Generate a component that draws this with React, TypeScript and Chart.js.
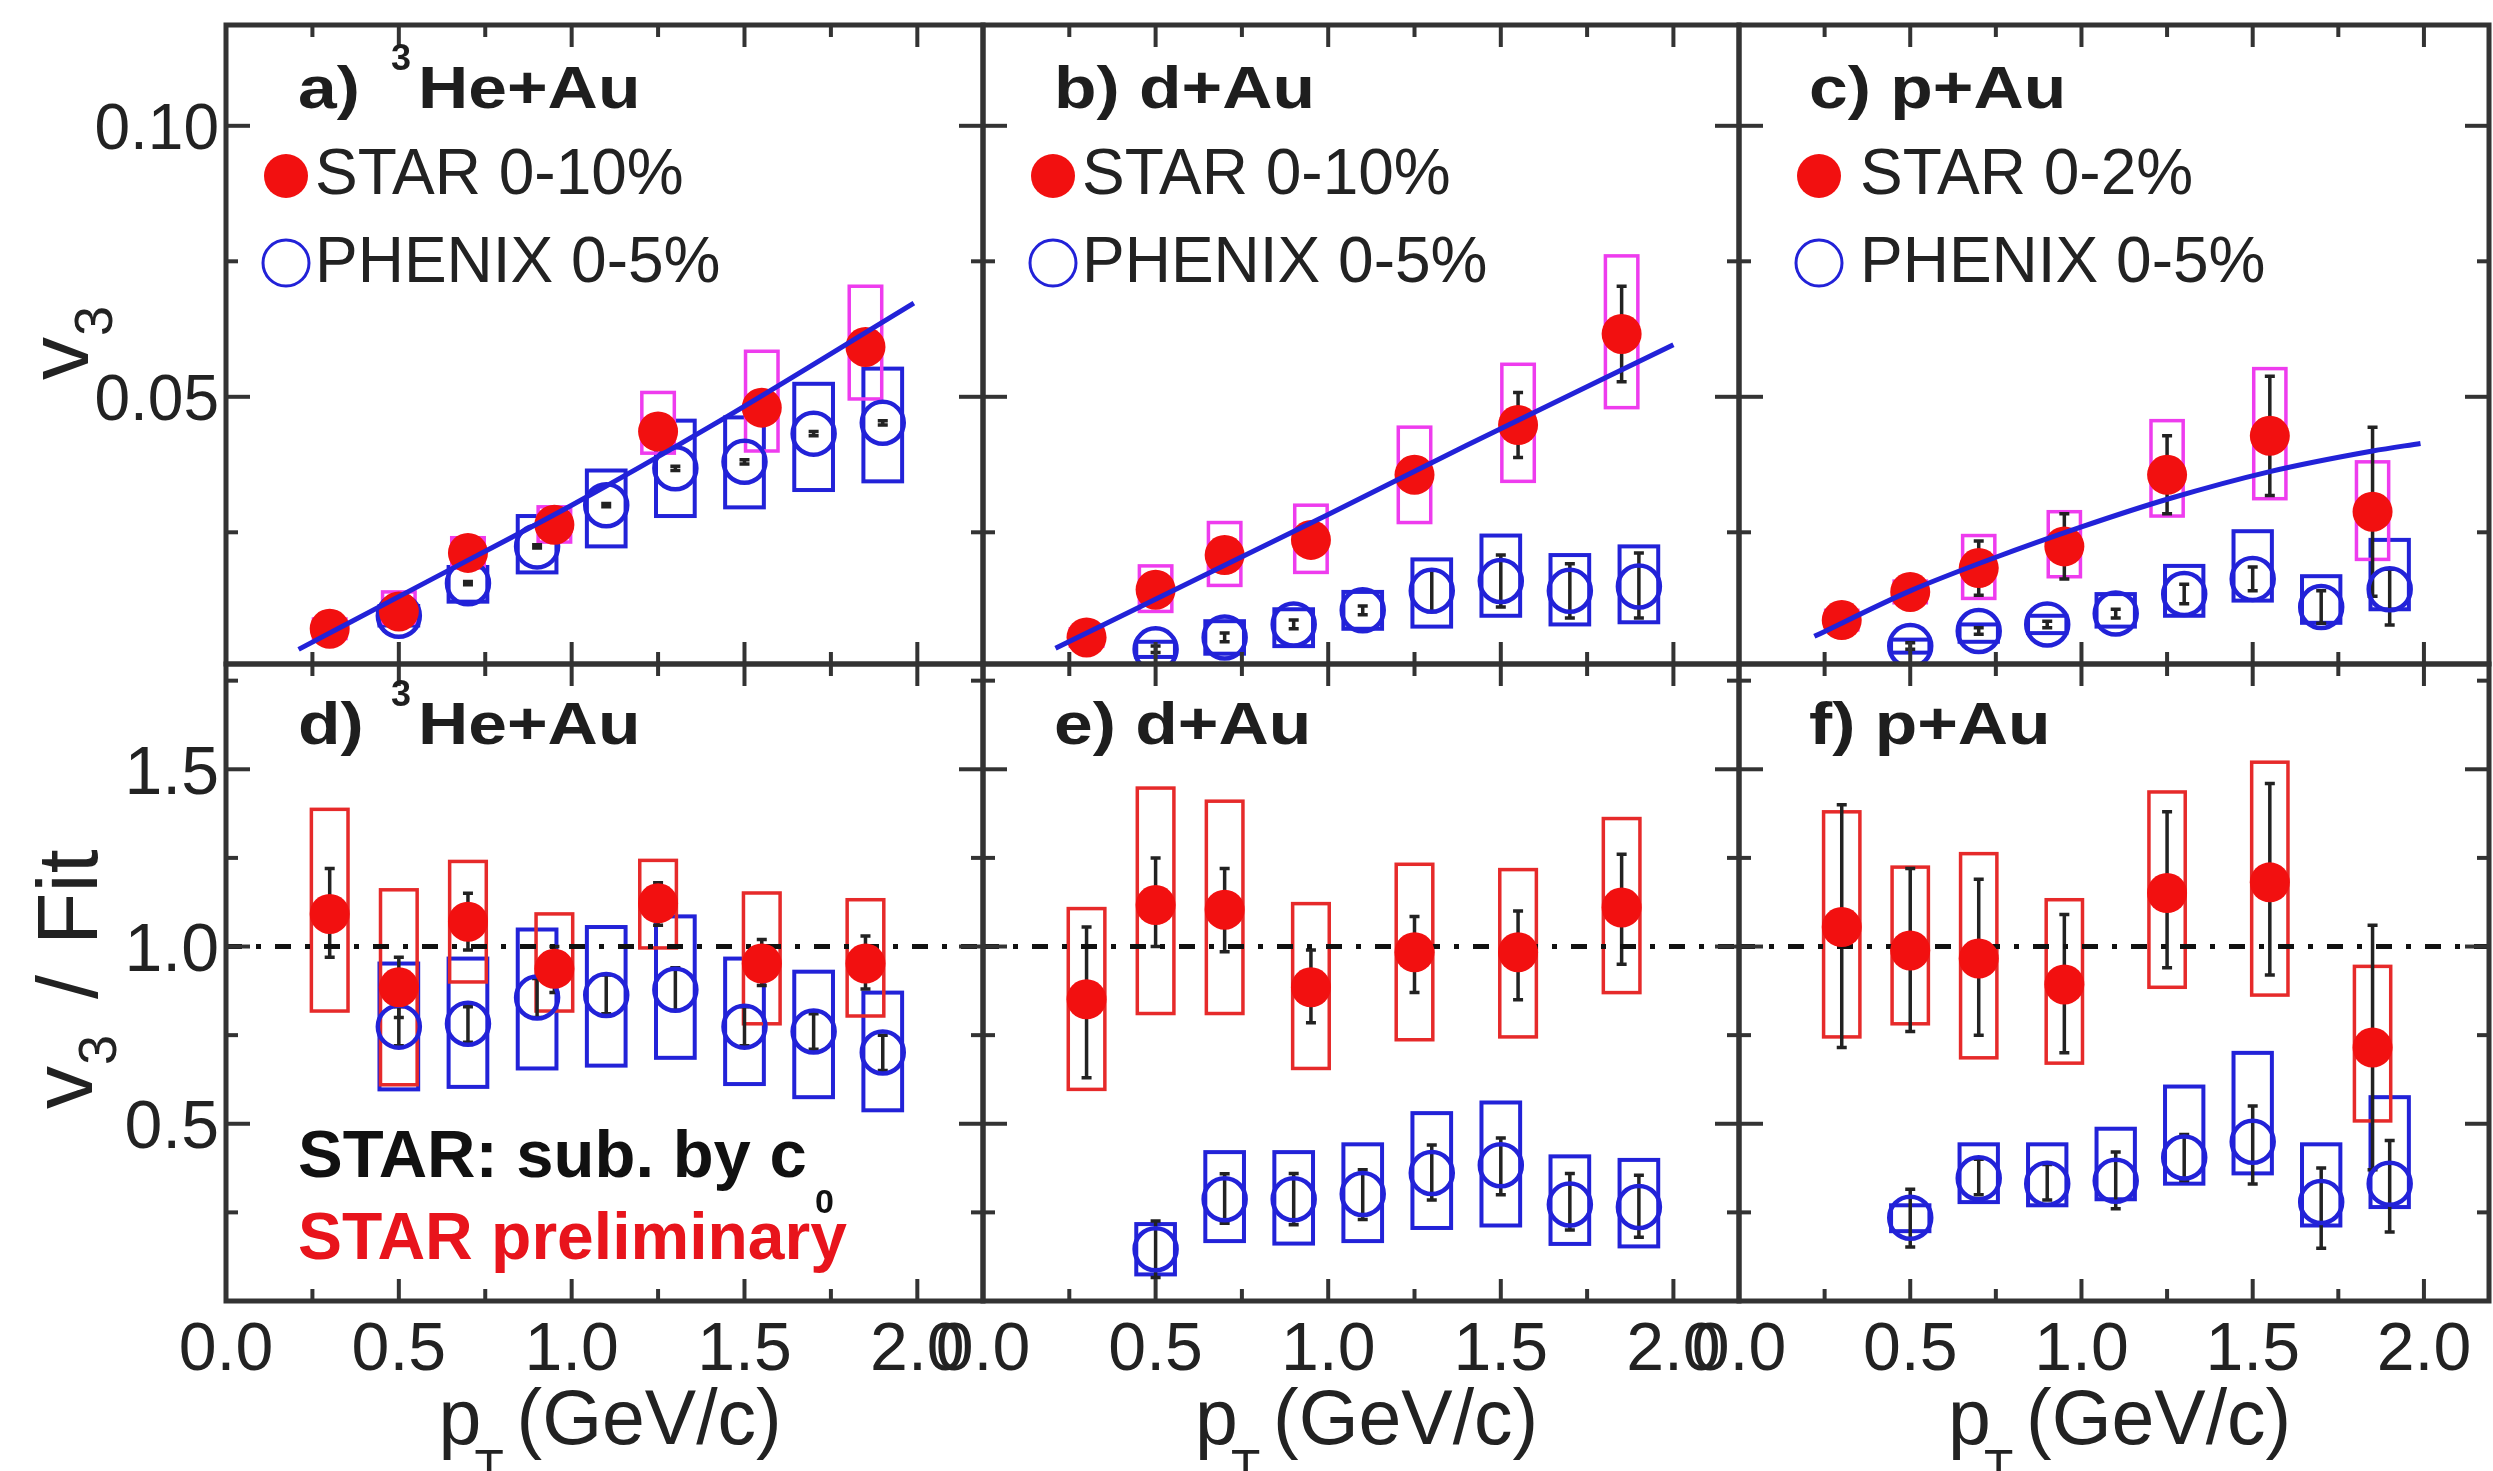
import React, { useEffect, useRef } from 'react';
import { Chart, registerables } from 'chart.js';

Chart.register(...registerables);

const W = 2493;
const H = 1471;
const FONT = '"Liberation Sans", Arial, Helvetica, sans-serif';
const RED = '#f21010';
const MAGENTA = '#ee3cee';
const RED_BOX = '#e62a2a';
const BLUE = '#2222d8';
const INK = '#1e1e1e';
const FRAME = '#333333';
const TEXT_RED = '#e8141c';

// ---------- axes ----------
const X_MIN = 0;
const X_MAX = 2.19;
const X_MAJOR = [0.5, 1.0, 1.5, 2.0];
const X_MINOR = [0.25, 0.75, 1.25, 1.75];
const X_LABEL_VALUES = [0, 0.5, 1.0, 1.5, 2.0];
const X_LABELS = ['0.0', '0.5', '1.0', '1.5', '2.0'];

const V3_RANGE = [0.0007, 0.1186];
const V3_MAJOR = [0.05, 0.1];
const V3_MINOR = [0.025, 0.075];
const V3_LABELS = ['0.05', '0.10'];

const RATIO_RANGE = [0, 1.797];
const RATIO_MAJOR = [0.5, 1.0, 1.5];
const RATIO_MINOR = [0.25, 0.75, 1.25, 1.75];
const RATIO_LABELS = ['0.5', '1.0', '1.5'];
const RATIO_REF_PT = [0, 2.19];
const RATIO_REF = [1, 1];

// ---------- pT bins ----------
const PT_STAR = [0.3, 0.5, 0.7, 0.95, 1.25, 1.55, 1.85];
const PT_PHENIX = [0.5, 0.7, 0.9, 1.1, 1.3, 1.5, 1.7, 1.9];

// ---------- a) 3He+Au v3 ----------
const A_STAR = [0.0072, 0.0104, 0.0212, 0.0264, 0.0436, 0.048, 0.0592];
const A_STAR_SYS_LO = [0.0054, 0.0082, 0.0184, 0.0232, 0.0396, 0.04, 0.0496];
const A_STAR_SYS_HI = [0.009, 0.014, 0.024, 0.0297, 0.0508, 0.0584, 0.0704];
const A_STAR_STAT_LO = [0.0064, 0.0096, 0.0202, 0.0252, 0.042, 0.0462, 0.0566];
const A_STAR_STAT_HI = [0.008, 0.0112, 0.0222, 0.0276, 0.0452, 0.0498, 0.0618];
const A_PHX = [0.0096, 0.0156, 0.0224, 0.03, 0.0368, 0.038, 0.0432, 0.0452];
const A_PHX_SYS_LO = [0.0078, 0.0122, 0.0176, 0.0224, 0.028, 0.0296, 0.0328, 0.0344];
const A_PHX_SYS_HI = [0.0114, 0.0186, 0.028, 0.0364, 0.0456, 0.0462, 0.0524, 0.0552];
const A_PHX_STAT_LO = [0.0093, 0.0153, 0.0221, 0.0297, 0.0364, 0.0376, 0.0428, 0.0448];
const A_PHX_STAT_HI = [0.0099, 0.0159, 0.0227, 0.0303, 0.0372, 0.0384, 0.0436, 0.0456];
const A_FIT_PT = [0.21, 0.6, 1.0, 1.4, 1.99];
const A_FIT = [0.0034, 0.0165, 0.03, 0.0445, 0.0673];

// ---------- b) d+Au v3 ----------
const B_STAR = [0.0056, 0.0144, 0.0208, 0.0236, 0.0356, 0.0448, 0.0616];
const B_STAR_SYS_LO = [0.004, 0.0104, 0.0152, 0.0176, 0.0268, 0.0344, 0.048];
const B_STAR_SYS_HI = [0.0072, 0.0188, 0.0268, 0.03, 0.0444, 0.056, 0.076];
const B_STAR_STAT_LO = [0.0046, 0.0132, 0.0194, 0.022, 0.033, 0.0388, 0.0528];
const B_STAR_STAT_HI = [0.0066, 0.0156, 0.0222, 0.0252, 0.0382, 0.0508, 0.0704];
const B_PHX = [0.0034, 0.0056, 0.008, 0.0106, 0.0142, 0.016, 0.0142, 0.015];
const B_PHX_SYS_LO = [0.002, 0.0026, 0.004, 0.0072, 0.0076, 0.0096, 0.008, 0.0084];
const B_PHX_SYS_HI = [0.0048, 0.0086, 0.0108, 0.014, 0.02, 0.0244, 0.0208, 0.0224];
const B_PHX_STAT_LO = [0.0028, 0.0048, 0.0072, 0.0098, 0.0104, 0.0112, 0.0092, 0.0092];
const B_PHX_STAT_HI = [0.004, 0.0064, 0.0088, 0.0114, 0.018, 0.0208, 0.0192, 0.0212];
const B_FIT_PT = [0.21, 0.6, 1.0, 1.4, 2.0];
const B_FIT = [0.0036, 0.0158, 0.0283, 0.041, 0.0596];

// ---------- c) p+Au v3 ----------
const C_STAR = [0.0088, 0.014, 0.0184, 0.0224, 0.0356, 0.0428, 0.0288];
const C_STAR_SYS_LO = [0.007, 0.012, 0.0128, 0.0168, 0.028, 0.0312, 0.02];
const C_STAR_SYS_HI = [0.0106, 0.016, 0.0244, 0.0288, 0.0456, 0.0552, 0.038];
const C_STAR_STAT_LO = [0.0078, 0.0128, 0.0134, 0.0164, 0.0284, 0.0318, 0.0132];
const C_STAR_STAT_HI = [0.0098, 0.0152, 0.0234, 0.0284, 0.0428, 0.0538, 0.0444];
const C_PHX = [0.004, 0.0068, 0.008, 0.01, 0.0136, 0.0164, 0.0112, 0.0145];
const C_PHX_SYS_LO = [0.0028, 0.0048, 0.0064, 0.0076, 0.0096, 0.0124, 0.0083, 0.0108];
const C_PHX_SYS_HI = [0.0052, 0.008, 0.0096, 0.0136, 0.0188, 0.0252, 0.0169, 0.0236];
const C_PHX_STAT_LO = [0.0034, 0.0062, 0.0074, 0.0092, 0.0118, 0.0142, 0.0082, 0.0079];
const C_PHX_STAT_HI = [0.0046, 0.0074, 0.0086, 0.0108, 0.0154, 0.0186, 0.0142, 0.0182];
const C_FIT_PT = [0.22, 0.5, 0.75, 1.0, 1.25, 1.55, 1.85, 1.99];
const C_FIT = [0.0058, 0.0142, 0.0204, 0.026, 0.0311, 0.0362, 0.04, 0.0414];

// ---------- d) 3He+Au v3/Fit ----------
const D_STAR = [1.092, 0.885, 1.07, 0.937, 1.122, 0.952, 0.952];
const D_STAR_SYS_LO = [0.818, 0.61, 0.9, 0.818, 0.996, 0.782, 0.804];
const D_STAR_SYS_HI = [1.387, 1.16, 1.24, 1.092, 1.243, 1.151, 1.132];
const D_STAR_STAT_LO = [0.97, 0.8, 0.99, 0.87, 1.06, 0.89, 0.88];
const D_STAR_STAT_HI = [1.22, 0.97, 1.15, 1.0, 1.18, 1.02, 1.03];
const D_PHX = [0.774, 0.782, 0.856, 0.863, 0.878, 0.774, 0.76, 0.701];
const D_PHX_SYS_LO = [0.597, 0.604, 0.656, 0.664, 0.686, 0.612, 0.575, 0.538];
const D_PHX_SYS_HI = [0.952, 0.966, 1.048, 1.055, 1.085, 0.966, 0.929, 0.87];
const D_PHX_STAT_LO = [0.72, 0.73, 0.8, 0.81, 0.82, 0.72, 0.71, 0.65];
const D_PHX_STAT_HI = [0.83, 0.83, 0.91, 0.92, 0.94, 0.83, 0.81, 0.75];

// ---------- e) d+Au v3/Fit ----------
const E_STAR = [0.851, 1.117, 1.104, 0.885, 0.984, 0.984, 1.11];
const E_STAR_SYS_LO = [0.597, 0.811, 0.811, 0.656, 0.737, 0.745, 0.87];
const E_STAR_SYS_HI = [1.107, 1.447, 1.41, 1.121, 1.232, 1.217, 1.361];
const E_STAR_STAT_LO = [0.63, 1.0, 0.985, 0.785, 0.87, 0.85, 0.95];
const E_STAR_STAT_HI = [1.055, 1.25, 1.22, 0.99, 1.085, 1.1, 1.26];
const E_PHX = [0.146, 0.287, 0.287, 0.302, 0.361, 0.383, 0.272, 0.265];
const E_PHX_SYS_LO = [0.075, 0.169, 0.162, 0.169, 0.206, 0.213, 0.161, 0.154];
const E_PHX_SYS_HI = [0.217, 0.42, 0.42, 0.442, 0.53, 0.56, 0.408, 0.398];
const E_PHX_STAT_LO = [0.066, 0.219, 0.215, 0.23, 0.285, 0.3, 0.2, 0.18];
const E_PHX_STAT_HI = [0.226, 0.359, 0.36, 0.37, 0.44, 0.46, 0.36, 0.355];

// ---------- f) p+Au v3/Fit ----------
const F_STAR = [1.055, 0.989, 0.966, 0.893, 1.151, 1.181, 0.715];
const F_STAR_SYS_LO = [0.745, 0.782, 0.686, 0.671, 0.885, 0.863, 0.508];
const F_STAR_SYS_HI = [1.38, 1.224, 1.262, 1.132, 1.436, 1.52, 0.944];
const F_STAR_STAT_LO = [0.715, 0.76, 0.75, 0.7, 0.94, 0.92, 0.37];
const F_STAR_STAT_HI = [1.4, 1.22, 1.19, 1.09, 1.38, 1.46, 1.06];
const F_PHX = [0.235, 0.346, 0.331, 0.339, 0.405, 0.449, 0.279, 0.331];
const F_PHX_SYS_LO = [0.197, 0.279, 0.27, 0.287, 0.331, 0.36, 0.213, 0.265];
const F_PHX_SYS_HI = [0.27, 0.442, 0.442, 0.486, 0.605, 0.7, 0.442, 0.575];
const F_PHX_STAT_LO = [0.152, 0.3, 0.285, 0.26, 0.34, 0.33, 0.149, 0.195];
const F_PHX_STAT_HI = [0.315, 0.4, 0.385, 0.42, 0.47, 0.55, 0.375, 0.453];

// ---------- text ----------
const LEGEND_STAR = ['STAR 0-10%', 'STAR 0-10%', 'STAR 0-2%'];
const LEGEND_PHENIX = 'PHENIX 0-5%';

type PanelDef = {
  id: string;
  left: number;
  right: number;
  top: number;
  bottom: number;
  yRange: number[];
  yMajor: number[];
  yMinor: number[];
  yLabels: string[] | null;
  xLabels: boolean;
  star: number[];
  starSysLo: number[];
  starSysHi: number[];
  starStatLo: number[];
  starStatHi: number[];
  phx: number[];
  phxSysLo: number[];
  phxSysHi: number[];
  phxStatLo: number[];
  phxStatHi: number[];
  starBox: string;
  starBoxHW: number;
  fitPt?: number[];
  fit?: number[];
  ref?: boolean;
};

const COLS = [
  [226, 983],
  [983, 1739],
  [1739, 2489],
];
const ROWS = [
  [25, 664],
  [664, 1301],
];

const PANELS: PanelDef[] = [
  {
    id: 'a', left: COLS[0][0], right: COLS[0][1], top: ROWS[0][0], bottom: ROWS[0][1],
    yRange: V3_RANGE, yMajor: V3_MAJOR, yMinor: V3_MINOR, yLabels: V3_LABELS, xLabels: false,
    star: A_STAR, starSysLo: A_STAR_SYS_LO, starSysHi: A_STAR_SYS_HI, starStatLo: A_STAR_STAT_LO, starStatHi: A_STAR_STAT_HI,
    phx: A_PHX, phxSysLo: A_PHX_SYS_LO, phxSysHi: A_PHX_SYS_HI, phxStatLo: A_PHX_STAT_LO, phxStatHi: A_PHX_STAT_HI,
    starBox: MAGENTA, starBoxHW: 0.047, fitPt: A_FIT_PT, fit: A_FIT,
  },
  {
    id: 'b', left: COLS[1][0], right: COLS[1][1], top: ROWS[0][0], bottom: ROWS[0][1],
    yRange: V3_RANGE, yMajor: V3_MAJOR, yMinor: V3_MINOR, yLabels: null, xLabels: false,
    star: B_STAR, starSysLo: B_STAR_SYS_LO, starSysHi: B_STAR_SYS_HI, starStatLo: B_STAR_STAT_LO, starStatHi: B_STAR_STAT_HI,
    phx: B_PHX, phxSysLo: B_PHX_SYS_LO, phxSysHi: B_PHX_SYS_HI, phxStatLo: B_PHX_STAT_LO, phxStatHi: B_PHX_STAT_HI,
    starBox: MAGENTA, starBoxHW: 0.047, fitPt: B_FIT_PT, fit: B_FIT,
  },
  {
    id: 'c', left: COLS[2][0], right: COLS[2][1], top: ROWS[0][0], bottom: ROWS[0][1],
    yRange: V3_RANGE, yMajor: V3_MAJOR, yMinor: V3_MINOR, yLabels: null, xLabels: false,
    star: C_STAR, starSysLo: C_STAR_SYS_LO, starSysHi: C_STAR_SYS_HI, starStatLo: C_STAR_STAT_LO, starStatHi: C_STAR_STAT_HI,
    phx: C_PHX, phxSysLo: C_PHX_SYS_LO, phxSysHi: C_PHX_SYS_HI, phxStatLo: C_PHX_STAT_LO, phxStatHi: C_PHX_STAT_HI,
    starBox: MAGENTA, starBoxHW: 0.047, fitPt: C_FIT_PT, fit: C_FIT,
  },
  {
    id: 'd', left: COLS[0][0], right: COLS[0][1], top: ROWS[1][0], bottom: ROWS[1][1],
    yRange: RATIO_RANGE, yMajor: RATIO_MAJOR, yMinor: RATIO_MINOR, yLabels: RATIO_LABELS, xLabels: true,
    star: D_STAR, starSysLo: D_STAR_SYS_LO, starSysHi: D_STAR_SYS_HI, starStatLo: D_STAR_STAT_LO, starStatHi: D_STAR_STAT_HI,
    phx: D_PHX, phxSysLo: D_PHX_SYS_LO, phxSysHi: D_PHX_SYS_HI, phxStatLo: D_PHX_STAT_LO, phxStatHi: D_PHX_STAT_HI,
    starBox: RED_BOX, starBoxHW: 0.053, ref: true,
  },
  {
    id: 'e', left: COLS[1][0], right: COLS[1][1], top: ROWS[1][0], bottom: ROWS[1][1],
    yRange: RATIO_RANGE, yMajor: RATIO_MAJOR, yMinor: RATIO_MINOR, yLabels: null, xLabels: true,
    star: E_STAR, starSysLo: E_STAR_SYS_LO, starSysHi: E_STAR_SYS_HI, starStatLo: E_STAR_STAT_LO, starStatHi: E_STAR_STAT_HI,
    phx: E_PHX, phxSysLo: E_PHX_SYS_LO, phxSysHi: E_PHX_SYS_HI, phxStatLo: E_PHX_STAT_LO, phxStatHi: E_PHX_STAT_HI,
    starBox: RED_BOX, starBoxHW: 0.053, ref: true,
  },
  {
    id: 'f', left: COLS[2][0], right: COLS[2][1], top: ROWS[1][0], bottom: ROWS[1][1],
    yRange: RATIO_RANGE, yMajor: RATIO_MAJOR, yMinor: RATIO_MINOR, yLabels: null, xLabels: true,
    star: F_STAR, starSysLo: F_STAR_SYS_LO, starSysHi: F_STAR_SYS_HI, starStatLo: F_STAR_STAT_LO, starStatHi: F_STAR_STAT_HI,
    phx: F_PHX, phxSysLo: F_PHX_SYS_LO, phxSysHi: F_PHX_SYS_HI, phxStatLo: F_PHX_STAT_LO, phxStatHi: F_PHX_STAT_HI,
    starBox: RED_BOX, starBoxHW: 0.053, ref: true,
  },
];

function txt(
  ctx: CanvasRenderingContext2D,
  s: string,
  x: number,
  y: number,
  size: number,
  o: { bold?: boolean; color?: string; align?: CanvasTextAlign; sx?: number } = {}
) {
  ctx.save();
  ctx.font = `${o.bold ? 'bold ' : ''}${size}px ${FONT}`;
  ctx.fillStyle = o.color || INK;
  ctx.textAlign = o.align || 'left';
  ctx.textBaseline = 'alphabetic';
  ctx.translate(x, y);
  ctx.scale(o.sx || 1, 1);
  ctx.fillText(s, 0, 0);
  ctx.restore();
}

const TITLE_SIZE = 60;
const TITLE_SX = 1.16;

function drawTitle(ctx: CanvasRenderingContext2D, d: PanelDef) {
  const L = d.left;
  const base = d.top === ROWS[0][0] ? 108 : 744;
  const letter = d.id + ')';
  if (d.id === 'a' || d.id === 'd') {
    txt(ctx, letter, L + 72, base, TITLE_SIZE, { bold: true, sx: TITLE_SX });
    txt(ctx, '3', L + 165, base - 38, 36, { bold: true });
    txt(ctx, 'He+Au', L + 192, base, TITLE_SIZE, { bold: true, sx: TITLE_SX });
  } else if (d.id === 'b' || d.id === 'e') {
    txt(ctx, letter + ' d+Au', L + 71, base, TITLE_SIZE, { bold: true, sx: TITLE_SX });
  } else {
    txt(ctx, letter + ' p+Au', L + 70, base, TITLE_SIZE, { bold: true, sx: TITLE_SX });
  }
}

const LEG_OFFSETS = [
  [60, 89],
  [70, 99],
  [80, 121],
];

function drawLegend(ctx: CanvasRenderingContext2D, d: PanelDef, idx: number) {
  const [m, t] = LEG_OFFSETS[idx];
  const L = d.left;
  ctx.save();
  ctx.fillStyle = RED;
  ctx.beginPath();
  ctx.arc(L + m, 176, 22, 0, Math.PI * 2);
  ctx.fill();
  ctx.strokeStyle = BLUE;
  ctx.lineWidth = 3;
  ctx.beginPath();
  ctx.arc(L + m, 263, 23, 0, Math.PI * 2);
  ctx.stroke();
  ctx.restore();
  txt(ctx, LEGEND_STAR[idx], L + t, 194, 64, { color: '#222' });
  txt(ctx, LEGEND_PHENIX, L + t, 282, 64, { color: '#222' });
}

function drawPtTitle(ctx: CanvasRenderingContext2D, d: PanelDef) {
  const cx = (d.left + d.right) / 2;
  const x0 = cx - 166;
  txt(ctx, 'p', x0, 1444, 77, { color: '#222' });
  txt(ctx, 'T', x0 + 36, 1483, 48, { color: '#222' });
  txt(ctx, '(GeV/c)', x0 + 78, 1444, 77, { color: '#222' });
}

function makePlugin(d: PanelDef, idx: number) {
  return {
    id: 'panelDecor' + d.id,
    beforeDatasetsDraw(chart: any) {
      const ctx: CanvasRenderingContext2D = chart.ctx;
      const a = chart.chartArea;
      const xs = chart.scales.x;
      const ys = chart.scales.y;
      ctx.save();
      ctx.beginPath();
      ctx.rect(a.left, a.top, a.right - a.left, a.bottom - a.top);
      ctx.clip();
      const box = (pt: number, lo: number, hi: number, hw: number) => {
        const x0 = xs.getPixelForValue(pt - hw);
        const x1 = xs.getPixelForValue(pt + hw);
        const y0 = ys.getPixelForValue(hi);
        const y1 = ys.getPixelForValue(lo);
        ctx.strokeRect(x0, y0, x1 - x0, y1 - y0);
      };
      const bar = (pt: number, lo: number, hi: number) => {
        const x = xs.getPixelForValue(pt);
        const y0 = ys.getPixelForValue(hi);
        const y1 = ys.getPixelForValue(lo);
        ctx.beginPath();
        ctx.moveTo(x, y0);
        ctx.lineTo(x, y1);
        ctx.moveTo(x - 5, y0);
        ctx.lineTo(x + 5, y0);
        ctx.moveTo(x - 5, y1);
        ctx.lineTo(x + 5, y1);
        ctx.stroke();
      };
      ctx.lineWidth = 4;
      ctx.strokeStyle = BLUE;
      PT_PHENIX.forEach((p, i) => box(p, d.phxSysLo[i], d.phxSysHi[i], 0.056));
      ctx.lineWidth = 3.5;
      ctx.strokeStyle = d.starBox;
      PT_STAR.forEach((p, i) => box(p, d.starSysLo[i], d.starSysHi[i], d.starBoxHW));
      ctx.strokeStyle = '#222';
      ctx.lineWidth = 3.5;
      PT_PHENIX.forEach((p, i) => bar(p, d.phxStatLo[i], d.phxStatHi[i]));
      PT_STAR.forEach((p, i) => bar(p, d.starStatLo[i], d.starStatHi[i]));
      ctx.restore();
    },
    afterDraw(chart: any) {
      const ctx: CanvasRenderingContext2D = chart.ctx;
      const a = chart.chartArea;
      const xs = chart.scales.x;
      const ys = chart.scales.y;
      ctx.save();
      ctx.strokeStyle = FRAME;
      ctx.lineWidth = 4;
      const seg = (x0: number, y0: number, x1: number, y1: number) => {
        ctx.beginPath();
        ctx.moveTo(x0, y0);
        ctx.lineTo(x1, y1);
        ctx.stroke();
      };
      X_MAJOR.forEach((v) => {
        const p = xs.getPixelForValue(v);
        seg(p, a.bottom, p, a.bottom - 22);
        seg(p, a.top, p, a.top + 22);
      });
      X_MINOR.forEach((v) => {
        const p = xs.getPixelForValue(v);
        seg(p, a.bottom, p, a.bottom - 12);
        seg(p, a.top, p, a.top + 12);
      });
      d.yMajor.forEach((v) => {
        const p = ys.getPixelForValue(v);
        seg(a.left, p, a.left + 24, p);
        seg(a.right, p, a.right - 24, p);
      });
      d.yMinor.forEach((v) => {
        const p = ys.getPixelForValue(v);
        seg(a.left, p, a.left + 12, p);
        seg(a.right, p, a.right - 12, p);
      });
      ctx.lineWidth = 5;
      ctx.strokeRect(a.left, a.top, a.right - a.left, a.bottom - a.top);
      ctx.restore();

      if (d.yLabels) {
        const size = d.top === ROWS[0][0] ? 64 : 68;
        d.yMajor.forEach((v, i) => {
          const p = ys.getPixelForValue(v);
          txt(ctx, d.yLabels![i], a.left - 7, p + size * 0.358, size, { align: 'right', color: '#222' });
        });
      }
      if (d.xLabels) {
        X_LABEL_VALUES.forEach((v, i) => {
          const p = xs.getPixelForValue(v);
          txt(ctx, X_LABELS[i], p, 1370, 68, { align: 'center', color: '#222' });
        });
        drawPtTitle(ctx, d);
      }

      drawTitle(ctx, d);
      if (d.top === ROWS[0][0]) drawLegend(ctx, d, idx);

      if (d.id === 'a') {
        ctx.save();
        ctx.translate(88, 380);
        ctx.rotate(-Math.PI / 2);
        txt(ctx, 'v', 0, 0, 86, { color: '#222' });
        txt(ctx, '3', 44, 24, 54, { color: '#222' });
        ctx.restore();
      }
      if (d.id === 'd') {
        ctx.save();
        ctx.translate(92, 1109);
        ctx.rotate(-Math.PI / 2);
        txt(ctx, 'v', 0, 0, 86, { color: '#222' });
        txt(ctx, '3', 44, 24, 54, { color: '#222' });
        txt(ctx, '/', 110, 5, 86, { color: '#222' });
        txt(ctx, 'Fit', 164, 5, 86, { color: '#222' });
        ctx.restore();
        txt(ctx, 'STAR: sub. by c', 298, 1177, 67, { bold: true, color: '#111' });
        txt(ctx, '0', 815, 1213, 34, { bold: true, color: '#111' });
        txt(ctx, 'STAR preliminary', 298, 1259, 66, { bold: true, color: TEXT_RED });
      }
    },
  };
}

function buildConfig(d: PanelDef, idx: number): any {
  const datasets: any[] = [];
  if (d.fitPt && d.fit) {
    datasets.push({
      label: 'fit',
      data: d.fitPt.map((x, i) => ({ x, y: d.fit![i] })),
      showLine: true,
      borderColor: BLUE,
      borderWidth: 5,
      pointRadius: 0,
      cubicInterpolationMode: 'monotone',
      order: 0,
    });
  }
  if (d.ref) {
    datasets.push({
      label: 'ref',
      data: RATIO_REF_PT.map((x, i) => ({ x, y: RATIO_REF[i] })),
      showLine: true,
      borderColor: '#111',
      borderWidth: 5,
      borderDash: [16, 14, 5, 14],
      pointRadius: 0,
      order: 10,
    });
  }
  datasets.push({
    label: 'STAR',
    data: PT_STAR.map((x, i) => ({ x, y: d.star[i] })),
    pointRadius: 20,
    pointBackgroundColor: RED,
    pointBorderWidth: 0,
    pointBorderColor: RED,
    order: 2,
  });
  datasets.push({
    label: 'PHENIX',
    data: PT_PHENIX.map((x, i) => ({ x, y: d.phx[i] })),
    pointRadius: 21,
    pointBackgroundColor: 'rgba(0,0,0,0)',
    pointBorderColor: BLUE,
    pointBorderWidth: 4.5,
    order: 3,
  });
  return {
    type: 'scatter',
    data: { datasets },
    options: {
      responsive: false,
      animation: false,
      devicePixelRatio: 1,
      events: [],
      layout: {
        autoPadding: false,
        padding: { left: d.left, top: d.top, right: W - d.right, bottom: H - d.bottom },
      },
      scales: {
        x: { type: 'linear', min: X_MIN, max: X_MAX, display: false },
        y: { type: 'linear', min: d.yRange[0], max: d.yRange[1], display: false },
      },
      plugins: { legend: { display: false }, tooltip: { enabled: false }, title: { display: false } },
    },
    plugins: [makePlugin(d, idx % 3)],
  };
}

function PanelCanvas({ def, idx }: { def: PanelDef; idx: number }) {
  const ref = useRef<HTMLCanvasElement | null>(null);
  useEffect(() => {
    if (!ref.current) return;
    const chart = new Chart(ref.current, buildConfig(def, idx));
    return () => chart.destroy();
  }, [def, idx]);
  return (
    <canvas
      ref={ref}
      width={W}
      height={H}
      style={{ position: 'absolute', left: 0, top: 0, width: W, height: H }}
    />
  );
}

export default function App() {
  return (
    <div
      style={{
        position: 'fixed',
        left: 0,
        top: 0,
        width: W,
        height: H,
        background: '#ffffff',
        overflow: 'hidden',
      }}
    >
      {PANELS.map((p, i) => (
        <PanelCanvas key={p.id} def={p} idx={i} />
      ))}
    </div>
  );
}
